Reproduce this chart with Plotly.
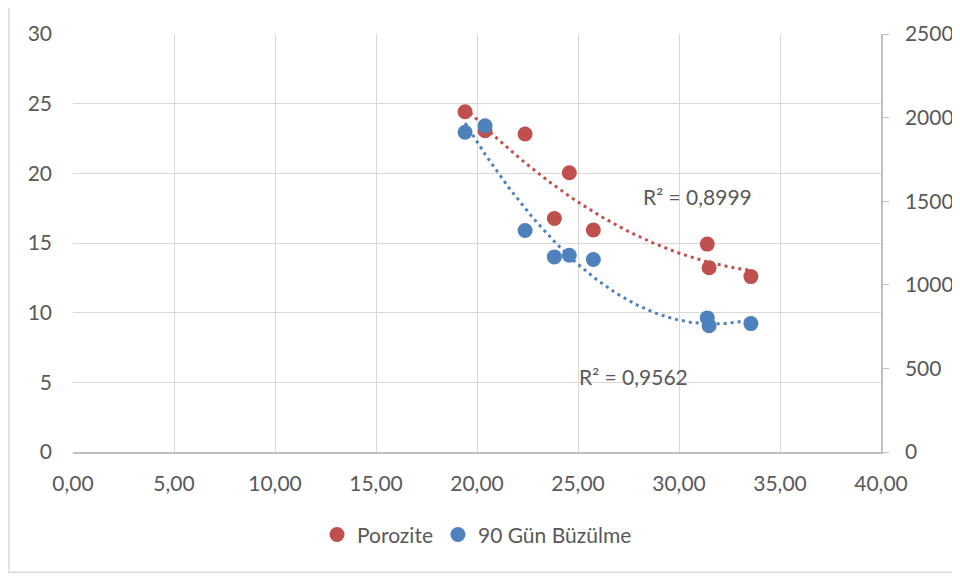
import numpy as np
import plotly.graph_objects as go

x_vals = [19.41, 20.40, 22.38, 23.83, 24.57, 25.76, 31.40, 31.49, 33.56]
porozite = [24.42, 23.06, 22.82, 16.76, 20.04, 15.93, 14.92, 13.22, 12.59]
buzulme_x = [19.41, 20.40, 22.38, 23.83, 24.57, 25.76, 31.40, 31.49, 33.56]
buzulme = [1912, 1951, 1325, 1167, 1177, 1151, 802, 755, 768]
x_ticks = [0, 5, 10, 15, 20, 25, 30, 35, 40]
r2_texts = ["R² = 0,8999", "R² = 0,9562"]

RED = "#C0504D"
BLUE = "#4F81BD"
GRID = "#D9D9D9"
TXT = "#595959"
FONT = "Lato"
FS = 21

# page body has an 8px offset; plot area is targeted at x 73..881, y 28..452 in the window
OFF = 8
L, R_, T, B = 73 - OFF, 881 - OFF, 28 - OFF, 452 - OFF
PW, PH = R_ - L, B - T

def trend(xs, ys):
    c = np.polyfit(xs, ys, 2)
    xx = np.linspace(min(xs), max(xs), 100)
    return xx, np.polyval(c, xx)

fig = go.Figure()

tx, ty = trend(x_vals, porozite)
fig.add_trace(go.Scatter(x=tx, y=ty, mode="lines", showlegend=False, hoverinfo="skip",
                         line=dict(color=RED, width=3, dash="3px,4px")))
bx, by = trend(buzulme_x, buzulme)
fig.add_trace(go.Scatter(x=bx, y=by, mode="lines", showlegend=False, hoverinfo="skip", yaxis="y2",
                         line=dict(color=BLUE, width=3, dash="3px,4px")))

fig.add_trace(go.Scatter(x=x_vals, y=porozite, mode="markers", name="Porozite",
                         marker=dict(color=RED, size=15)))
fig.add_trace(go.Scatter(x=buzulme_x, y=buzulme, mode="markers", name="90 Gün Büzülme", yaxis="y2",
                         marker=dict(color=BLUE, size=15)))

def px_to_paper(wx, wy):
    return (wx - OFF - L) / PW, (B - (wy - OFF)) / PH

lx, ly = px_to_paper(0, 536)
fig.update_layout(
    width=960, height=579,
    margin=dict(l=L, r=960 - R_, t=T, b=579 - B),
    paper_bgcolor="white", plot_bgcolor="white",
    separators=", ",
    font=dict(family=FONT, size=FS, color=TXT),
    showlegend=True,
    legend=dict(orientation="h", x=0.5, xanchor="center", y=ly, yanchor="middle",
                font=dict(family=FONT, size=FS, color=TXT), itemwidth=30, tracegroupgap=0),
    xaxis=dict(range=[0, 40], tickvals=x_ticks, tickformat=".2f", showgrid=True, gridcolor=GRID,
               gridwidth=1, zeroline=False, showline=True, linecolor="#BFBFBF", linewidth=1.5,
               ticks="", ticklabelstandoff=12),
    yaxis=dict(range=[0, 30], dtick=5, showgrid=True, gridcolor=GRID, gridwidth=1, zeroline=False,
               showline=False, ticks="", ticklabelstandoff=20),
    yaxis2=dict(range=[0, 2500], dtick=500, tickformat="d", overlaying="y", side="right",
                showgrid=False, zeroline=False, showline=True, linecolor="#BFBFBF", linewidth=1.5,
                ticks="outside", ticklen=6, tickcolor="#BFBFBF", ticklabelstandoff=12),
)

bx0, by0 = px_to_paper(9, 574)
bx1, by1 = px_to_paper(959, -4)
fig.add_shape(type="rect", xref="paper", yref="paper", x0=bx0, x1=bx1, y0=by0, y1=by1,
              line=dict(color="#D9D9D9", width=1.5), fillcolor="rgba(0,0,0,0)", layer="below")

for (wx, wy), txt in zip([(697, 193), (633, 375)], r2_texts):
    ax, ay = px_to_paper(wx, wy)
    fig.add_annotation(xref="paper", yref="paper", x=ax, y=ay, text=txt, showarrow=False,
                       xanchor="center", yanchor="middle",
                       font=dict(family=FONT, size=FS, color=TXT))

fig.write_html("out.html")
